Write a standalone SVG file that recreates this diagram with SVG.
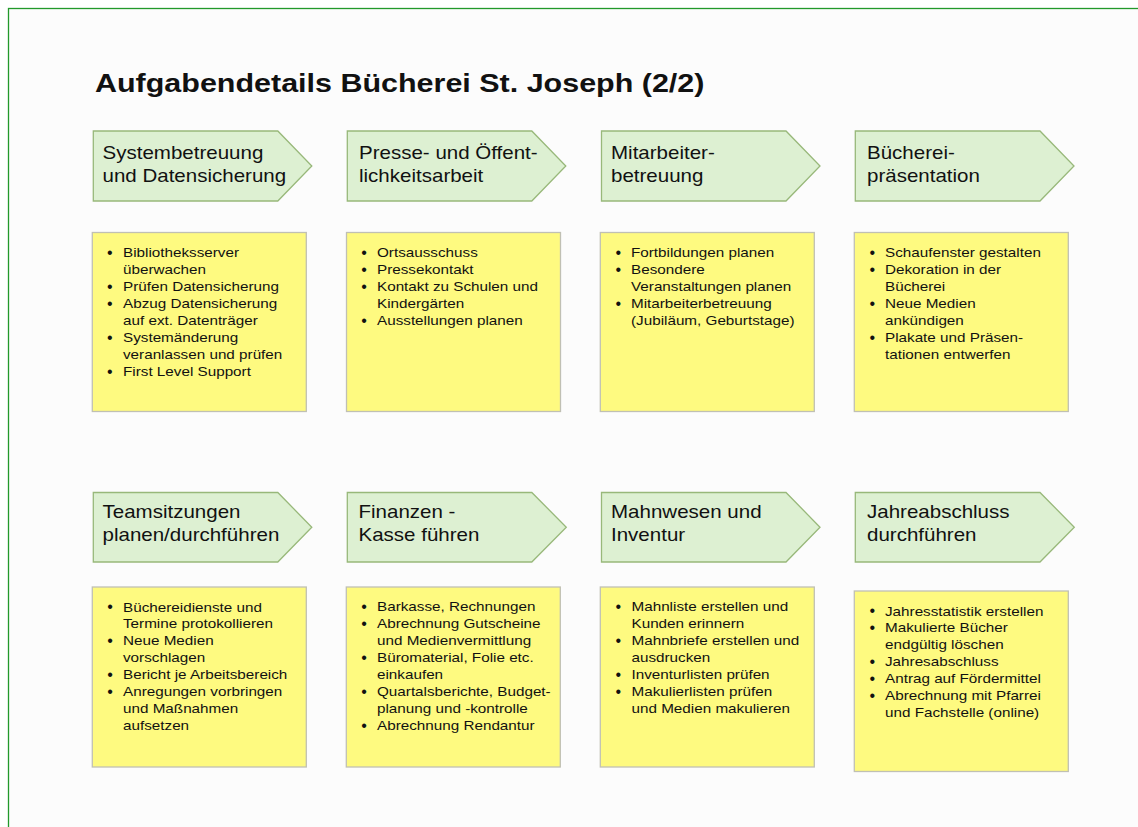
<svg xmlns="http://www.w3.org/2000/svg" width="1138" height="827" viewBox="0 0 1138 827">
<style>
.bg{fill:#fcfcfc;stroke:#22992a;stroke-width:1.3}
.arrow{fill:#ddf0d2;stroke:#98b87a;stroke-width:1.3}
.box{fill:#fefa80;stroke:#c0c0b4;stroke-width:1.3}
text{font-family:"Liberation Sans",Arial,Helvetica,sans-serif;fill:#111}
.title{font-size:26.5px;font-weight:bold}
.hd{font-size:18px}
.li{font-size:13.5px}
.bul{font-size:16px;text-anchor:middle}
</style>
<rect class="bg" x="8.5" y="8.5" width="1140" height="830"/>
<text class="title" transform="translate(95,92) scale(1.15,1)">Aufgabendetails Bücherei St. Joseph (2/2)</text>
<g id="connectors"/>

<g id="n1">
<polygon class="arrow" points="93.3,131 277.8,131 311.8,166 277.8,201 93.3,201"/>
<text class="hd" transform="translate(102.5,158.5) scale(1.14,1)"><tspan x="0" y="0">Systembetreuung</tspan><tspan x="0" y="23.5">und Datensicherung</tspan></text>
<rect class="box" x="92.3" y="232.5" width="214" height="179"/>
<text class="li" transform="translate(123,257) scale(1.13,1)"><tspan x="0" y="0">Bibliotheksserver</tspan><tspan x="0" y="17">überwachen</tspan><tspan x="0" y="34">Prüfen Datensicherung</tspan><tspan x="0" y="51">Abzug Datensicherung</tspan><tspan x="0" y="68">auf ext. Datenträger</tspan><tspan x="0" y="85">Systemänderung</tspan><tspan x="0" y="102">veranlassen und prüfen</tspan><tspan x="0" y="119">First Level Support</tspan></text>
<text class="bul" transform="translate(0,0.9)"><tspan x="109.8" y="257">•</tspan><tspan x="109.8" y="291">•</tspan><tspan x="109.8" y="308">•</tspan><tspan x="109.8" y="342">•</tspan><tspan x="109.8" y="376">•</tspan></text>
</g>

<g id="n2">
<polygon class="arrow" points="347.3,131 531.8,131 565.8,166 531.8,201 347.3,201"/>
<text class="hd" transform="translate(359,158.5) scale(1.14,1)"><tspan x="0" y="0">Presse- und Öffent-</tspan><tspan x="0" y="23.5">lichkeitsarbeit</tspan></text>
<rect class="box" x="346.5" y="232.5" width="214" height="179"/>
<text class="li" transform="translate(377,257) scale(1.13,1)"><tspan x="0" y="0">Ortsausschuss</tspan><tspan x="0" y="17">Pressekontakt</tspan><tspan x="0" y="34">Kontakt zu Schulen und</tspan><tspan x="0" y="51">Kindergärten</tspan><tspan x="0" y="68">Ausstellungen planen</tspan></text>
<text class="bul" transform="translate(0,0.9)"><tspan x="364" y="257">•</tspan><tspan x="364" y="274">•</tspan><tspan x="364" y="291">•</tspan><tspan x="364" y="325">•</tspan></text>
</g>

<g id="n3">
<polygon class="arrow" points="601.5,131 786,131 820,166 786,201 601.5,201"/>
<text class="hd" transform="translate(611,158.5) scale(1.14,1)"><tspan x="0" y="0">Mitarbeiter-</tspan><tspan x="0" y="23.5">betreuung</tspan></text>
<rect class="box" x="600.3" y="232.5" width="214" height="179"/>
<text class="li" transform="translate(631,257) scale(1.13,1)"><tspan x="0" y="0">Fortbildungen planen</tspan><tspan x="0" y="17">Besondere</tspan><tspan x="0" y="34">Veranstaltungen planen</tspan><tspan x="0" y="51">Mitarbeiterbetreuung</tspan><tspan x="0" y="68">(Jubiläum, Geburtstage)</tspan></text>
<text class="bul" transform="translate(0,0.9)"><tspan x="618.3" y="257">•</tspan><tspan x="618.3" y="274">•</tspan><tspan x="618.3" y="308">•</tspan></text>
</g>

<g id="n4">
<polygon class="arrow" points="855.3,131 1040,131 1074,166 1040,201 855.3,201"/>
<text class="hd" transform="translate(867,158.5) scale(1.14,1)"><tspan x="0" y="0">Bücherei-</tspan><tspan x="0" y="23.5">präsentation</tspan></text>
<rect class="box" x="854.3" y="232.5" width="214" height="179"/>
<text class="li" transform="translate(885,257) scale(1.13,1)"><tspan x="0" y="0">Schaufenster gestalten</tspan><tspan x="0" y="17">Dekoration in der</tspan><tspan x="0" y="34">Bücherei</tspan><tspan x="0" y="51">Neue Medien</tspan><tspan x="0" y="68">ankündigen</tspan><tspan x="0" y="85">Plakate und Präsen-</tspan><tspan x="0" y="102">tationen entwerfen</tspan></text>
<text class="bul" transform="translate(0,0.9)"><tspan x="872.3" y="257">•</tspan><tspan x="872.3" y="274">•</tspan><tspan x="872.3" y="308">•</tspan><tspan x="872.3" y="342">•</tspan></text>
</g>

<g id="n5">
<polygon class="arrow" points="93.3,492.5 277.8,492.5 311.8,527.2 277.8,562 93.3,562"/>
<text class="hd" transform="translate(102.5,517.5) scale(1.14,1)"><tspan x="0" y="0">Teamsitzungen</tspan><tspan x="0" y="23.5">planen/durchführen</tspan></text>
<rect class="box" x="92.3" y="587" width="214" height="180"/>
<text class="li" transform="translate(123,611.5) scale(1.13,1)"><tspan x="0" y="0">Büchereidienste und</tspan><tspan x="0" y="17">Termine protokollieren</tspan><tspan x="0" y="34">Neue Medien</tspan><tspan x="0" y="51">vorschlagen</tspan><tspan x="0" y="68">Bericht je Arbeitsbereich</tspan><tspan x="0" y="85">Anregungen vorbringen</tspan><tspan x="0" y="102">und Maßnahmen</tspan><tspan x="0" y="119">aufsetzen</tspan></text>
<text class="bul" transform="translate(0,0.9)"><tspan x="110" y="611.5">•</tspan><tspan x="110" y="645.5">•</tspan><tspan x="110" y="679.5">•</tspan><tspan x="110" y="696.5">•</tspan></text>
</g>

<g id="n6">
<polygon class="arrow" points="347.3,492.5 531.8,492.5 566.3,527.2 531.8,562 347.3,562"/>
<text class="hd" transform="translate(358.5,517.5) scale(1.14,1)"><tspan x="0" y="0">Finanzen -</tspan><tspan x="0" y="23.5">Kasse führen</tspan></text>
<rect class="box" x="346.3" y="587" width="214" height="180"/>
<text class="li" transform="translate(377,611) scale(1.13,1)"><tspan x="0" y="0">Barkasse, Rechnungen</tspan><tspan x="0" y="17">Abrechnung Gutscheine</tspan><tspan x="0" y="34">und Medienvermittlung</tspan><tspan x="0" y="51">Büromaterial, Folie etc.</tspan><tspan x="0" y="68">einkaufen</tspan><tspan x="0" y="85">Quartalsberichte, Budget-</tspan><tspan x="0" y="102">planung und -kontrolle</tspan><tspan x="0" y="119">Abrechnung Rendantur</tspan></text>
<text class="bul" transform="translate(0,0.9)"><tspan x="364" y="611">•</tspan><tspan x="364" y="628">•</tspan><tspan x="364" y="662">•</tspan><tspan x="364" y="696">•</tspan><tspan x="364" y="730">•</tspan></text>
</g>

<g id="n7">
<polygon class="arrow" points="601.5,492.5 786,492.5 820,527.2 786,562 601.5,562"/>
<text class="hd" transform="translate(611,517.5) scale(1.14,1)"><tspan x="0" y="0">Mahnwesen und</tspan><tspan x="0" y="23.5">Inventur</tspan></text>
<rect class="box" x="600.3" y="587" width="214" height="180"/>
<text class="li" transform="translate(631.5,611) scale(1.13,1)"><tspan x="0" y="0">Mahnliste erstellen und</tspan><tspan x="0" y="17">Kunden erinnern</tspan><tspan x="0" y="34">Mahnbriefe erstellen und</tspan><tspan x="0" y="51">ausdrucken</tspan><tspan x="0" y="68">Inventurlisten prüfen</tspan><tspan x="0" y="85">Makulierlisten prüfen</tspan><tspan x="0" y="102">und Medien makulieren</tspan></text>
<text class="bul" transform="translate(0,0.9)"><tspan x="618.3" y="611">•</tspan><tspan x="618.3" y="645">•</tspan><tspan x="618.3" y="679">•</tspan><tspan x="618.3" y="696">•</tspan></text>
</g>

<g id="n8">
<polygon class="arrow" points="855.3,492.5 1040,492.5 1074.3,527.2 1040,562 855.3,562"/>
<text class="hd" transform="translate(867,517.5) scale(1.14,1)"><tspan x="0" y="0">Jahreabschluss</tspan><tspan x="0" y="23.5">durchführen</tspan></text>
<rect class="box" x="854.3" y="591" width="214" height="180.5"/>
<text class="li" transform="translate(885,615.5) scale(1.13,1)"><tspan x="0" y="0">Jahresstatistik erstellen</tspan><tspan x="0" y="17">Makulierte Bücher</tspan><tspan x="0" y="34">endgültig löschen</tspan><tspan x="0" y="51">Jahresabschluss</tspan><tspan x="0" y="68">Antrag auf Fördermittel</tspan><tspan x="0" y="85">Abrechnung mit Pfarrei</tspan><tspan x="0" y="102">und Fachstelle (online)</tspan></text>
<text class="bul" transform="translate(0,0.9)"><tspan x="872.3" y="615.5">•</tspan><tspan x="872.3" y="632.5">•</tspan><tspan x="872.3" y="666.5">•</tspan><tspan x="872.3" y="683.5">•</tspan><tspan x="872.3" y="700.5">•</tspan></text>
</g>
</svg>
